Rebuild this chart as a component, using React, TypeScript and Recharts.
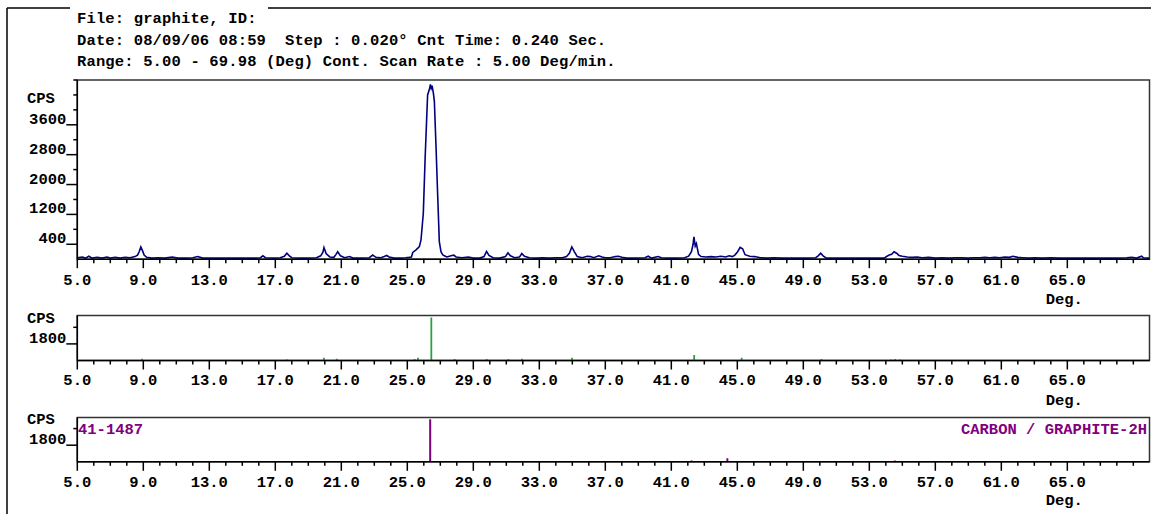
import React from 'react';
import { LineChart, Line, BarChart, Bar, XAxis, YAxis, ReferenceArea } from 'recharts';

const FONT = '"Liberation Mono", "Courier New", monospace';
const FS = 15.5;
const W = 1151;
const X_MIN = 5.0;
const X_MAX = 69.98;

const headerLines = [
  'File: graphite, ID:',
  'Date: 08/09/06 08:59  Step : 0.020° Cnt Time: 0.240 Sec.',
  'Range: 5.00 - 69.98 (Deg) Cont. Scan Rate : 5.00 Deg/min.',
];

const xMajorTicks = [5, 9, 13, 17, 21, 25, 29, 33, 37, 41, 45, 49, 53, 57, 61, 65];
const xAllTicks = Array.from({ length: 65 }, (_, i) => 5 + i);

const topYTicks = [400, 800, 1200, 1600, 2000, 2400, 2800, 3200, 3600, 4000, 4400, 4800];
const topYLabels = [400, 1200, 2000, 2800, 3600];
const smallYTicks = [1800, 3600];
const smallYLabels = [1800];

const cardId = '41-1487';
const cardName = 'CARBON / GRAPHITE-2H';

// measured scan (deg, cps)
const scan: [number, number][] = [
  [5.0, 40], [5.3, 60], [5.5, 30], [5.7, 80], [5.9, 30], [6.2, 50], [6.5, 30], [6.8, 60], [7.0, 30],
  [7.3, 50], [7.6, 30], [7.9, 50], [8.2, 40], [8.5, 70], [8.65, 110], [8.75, 200], [8.85, 330],
  [8.95, 230], [9.05, 110], [9.2, 50], [9.5, 30], [9.9, 40], [10.3, 30], [10.75, 60], [11.1, 30],
  [11.6, 30], [12.0, 40], [12.3, 70], [12.6, 30], [13.2, 30], [13.8, 30], [14.5, 30], [15.2, 30],
  [15.8, 30], [16.1, 40], [16.25, 90], [16.4, 40], [16.9, 30], [17.3, 40], [17.55, 80], [17.7, 160],
  [17.85, 90], [18.0, 40], [18.5, 30], [19.0, 30], [19.5, 40], [19.75, 90], [19.88, 180], [19.95, 310],
  [20.08, 150], [20.3, 60], [20.55, 50], [20.68, 130], [20.78, 200], [20.95, 90], [21.2, 40],
  [21.5, 70], [21.7, 30], [22.2, 30], [22.7, 40], [22.9, 110], [23.1, 50], [23.4, 40], [23.6, 70],
  [23.75, 100], [23.9, 60], [24.2, 30], [24.6, 30], [24.9, 40], [25.1, 50], [25.25, 60], [25.33, 180],
  [25.53, 250], [25.73, 335], [25.83, 515], [25.97, 1230], [26.08, 2710], [26.23, 4400], [26.34, 4550],
  [26.4, 4680], [26.45, 4580], [26.5, 4650], [26.58, 4450], [26.64, 4230], [26.74, 3020], [26.84, 1720],
  [26.94, 470], [27.04, 200], [27.14, 120], [27.24, 90], [27.4, 60], [27.55, 80], [27.7, 100],
  [27.82, 110], [27.95, 60], [28.3, 40], [28.7, 60], [29.0, 30], [29.4, 30], [29.65, 70], [29.8, 210],
  [29.95, 100], [30.2, 40], [30.6, 30], [30.95, 70], [31.1, 170], [31.25, 90], [31.5, 40], [31.8, 60],
  [31.94, 150], [32.1, 80], [32.4, 40], [32.8, 30], [33.2, 40], [33.6, 30], [34.0, 40], [34.4, 40],
  [34.65, 70], [34.82, 160], [34.97, 330], [35.12, 200], [35.3, 70], [35.6, 40], [35.9, 80], [36.1, 70],
  [36.3, 40], [36.6, 90], [36.8, 60], [37.0, 40], [37.3, 40], [37.6, 70], [37.8, 80], [38.0, 50],
  [38.3, 30], [38.8, 30], [39.4, 40], [39.6, 80], [39.8, 30], [40.2, 70], [40.4, 40], [40.8, 30],
  [41.2, 30], [41.8, 40], [42.05, 80], [42.22, 200], [42.32, 400], [42.37, 600], [42.45, 350],
  [42.52, 420], [42.65, 130], [42.8, 70], [43.1, 60], [43.4, 70], [43.7, 60], [44.0, 80], [44.3, 60],
  [44.5, 90], [44.7, 70], [44.85, 110], [45.02, 200], [45.17, 320], [45.32, 280], [45.47, 120],
  [45.75, 80], [46.05, 70], [46.4, 40], [46.8, 30], [47.2, 40], [47.7, 30], [48.2, 30], [48.8, 30],
  [49.3, 30], [49.75, 40], [49.9, 90], [50.05, 160], [50.2, 90], [50.4, 30], [51.0, 30], [51.6, 30],
  [52.2, 30], [52.8, 30], [53.4, 30], [53.9, 30], [54.0, 60], [54.2, 110], [54.35, 130], [54.5, 200],
  [54.65, 160], [54.8, 100], [55.0, 80], [55.3, 60], [55.6, 50], [55.9, 60], [56.2, 40], [56.6, 50],
  [57.0, 30], [57.4, 40], [57.8, 30], [58.2, 40], [58.6, 40], [59.0, 30], [59.3, 40], [59.7, 40],
  [60.0, 50], [60.3, 40], [60.6, 50], [60.9, 40], [61.2, 60], [61.5, 50], [61.7, 80], [62.0, 50],
  [62.3, 40], [62.7, 30], [63.0, 40], [63.5, 30], [64.0, 40], [64.5, 30], [65.0, 30], [65.5, 30],
  [66.0, 30], [66.5, 30], [67.0, 30], [67.5, 30], [68.0, 30], [68.6, 40], [68.9, 50], [69.2, 30],
  [69.5, 80], [69.6, 40], [69.98, 30],
];

// peak search sticks (deg, cps)
const peaks: [number, number][] = [
  [8.9, 200], [17.69, 100], [19.93, 300], [20.71, 200], [25.43, 150], [25.63, 300], [26.44, 4650],
  [27.85, 150], [29.8, 150], [31.11, 150], [31.94, 200], [34.97, 300], [42.37, 600], [45.25, 300],
  [50.08, 150], [54.3, 100], [54.55, 150], [54.85, 100],
];

// reference card 41-1487 sticks (deg, cps)
const card: [number, number][] = [
  [26.38, 4600], [42.22, 150], [44.39, 380], [54.54, 150],
];

const scanData = scan.map(([deg, cps]) => ({ deg, cps }));
const peakData = peaks.map(([deg, cps]) => ({ deg, cps }));
const cardData = card.map(([deg, cps]) => ({ deg, cps }));

const textStyle = { fontFamily: FONT, fontWeight: 700 as const, fontSize: FS };

const makeXTick = (labelDy: number, degDy: number) => (props: any) => {
  const { x, y, payload } = props;
  const v = payload.value as number;
  const major = xMajorTicks.includes(v);
  return (
    <g>
      <line x1={x} x2={x} y1={y} y2={y + (major ? 9 : 4)} stroke="#000" strokeWidth={1.5} />
      {major && (
        <text x={x} y={y + labelDy} textAnchor="middle" fill="#000" style={textStyle}>
          {v.toFixed(1)}
        </text>
      )}
      {v === 65 && (
        <text x={x - 3} y={y + degDy} textAnchor="middle" fill="#000" style={textStyle}>
          Deg.
        </text>
      )}
    </g>
  );
};

const makeYTick = (labels: number[]) => (props: any) => {
  const { x, y, payload } = props;
  const v = payload.value as number;
  const labeled = labels.includes(v);
  return (
    <g>
      <line x1={labeled ? x - 11 : x - 4} x2={x} y1={y} y2={y} stroke="#000" strokeWidth={1.5} />
      {labeled && (
        <text x={x - 11} y={y - 1} textAnchor="end" fill="#000" style={textStyle}>
          {v}
        </text>
      )}
    </g>
  );
};

const PLOT_LEFT = 77.3;
const RIGHT_GAP = 1.5;

export default function App() {
  return (
    <div style={{ position: 'absolute', left: 0, top: 0, width: W, height: 514, background: '#fff', overflow: 'hidden' }}>
      {/* top panel: scan */}
      <div style={{ position: 'absolute', left: 0, top: 0 }}>
        <LineChart width={W} height={312} data={scanData} margin={{ top: 80, right: RIGHT_GAP, left: 0, bottom: 0 }}>
          <XAxis
            dataKey="deg"
            type="number"
            domain={[X_MIN, X_MAX]}
            ticks={xAllTicks}
            interval={0}
            tickSize={0}
            tickMargin={0}
            tickLine={false}
            height={52.8}
            axisLine={{ stroke: '#000', strokeWidth: 1.5 }}
            tick={makeXTick(25.8, 45)}
            allowDataOverflow
          />
          <YAxis
            type="number"
            domain={[0, 4800]}
            ticks={topYTicks}
            interval={0}
            tickSize={0}
            tickMargin={0}
            tickLine={false}
            width={PLOT_LEFT}
            axisLine={{ stroke: '#000', strokeWidth: 1.5 }}
            tick={makeYTick(topYLabels)}
            allowDataOverflow
          />
          <ReferenceArea x1={X_MIN} x2={X_MAX} y1={0} y2={4800} fill="none" stroke="#333" strokeWidth={1.5} />
          <Line type="linear" dataKey="cps" stroke="#000080" strokeWidth={1.6} dot={false} isAnimationActive={false} />
        </LineChart>
      </div>

      {/* middle panel: peak sticks */}
      <div style={{ position: 'absolute', left: 0, top: 300 }}>
        <BarChart width={W} height={110} data={peakData} margin={{ top: 15.5, right: RIGHT_GAP, left: 0, bottom: 0 }}>
          <XAxis
            dataKey="deg"
            type="number"
            domain={[X_MIN, X_MAX]}
            ticks={xAllTicks}
            interval={0}
            tickSize={0}
            tickMargin={0}
            tickLine={false}
            height={49.5}
            axisLine={{ stroke: '#000', strokeWidth: 1.5 }}
            tick={makeXTick(24.5, 44.5)}
            allowDataOverflow
          />
          <YAxis
            type="number"
            domain={[0, 4880]}
            ticks={smallYTicks}
            interval={0}
            tickSize={0}
            tickMargin={0}
            tickLine={false}
            width={PLOT_LEFT}
            axisLine={{ stroke: '#000', strokeWidth: 1.5 }}
            tick={makeYTick(smallYLabels)}
            allowDataOverflow
          />
          <ReferenceArea x1={X_MIN} x2={X_MAX} y1={0} y2={4880} fill="none" stroke="#333" strokeWidth={1.5} />
          <Bar dataKey="cps" fill="#2f9f3a" barSize={1.8} isAnimationActive={false} />
        </BarChart>
      </div>

      {/* bottom panel: reference card */}
      <div style={{ position: 'absolute', left: 0, top: 410 }}>
        <BarChart width={W} height={104} data={cardData} margin={{ top: 7.5, right: RIGHT_GAP, left: 0, bottom: 0 }}>
          <XAxis
            dataKey="deg"
            type="number"
            domain={[X_MIN, X_MAX]}
            ticks={xAllTicks}
            interval={0}
            tickSize={0}
            tickMargin={0}
            tickLine={false}
            height={52.2}
            axisLine={{ stroke: '#000', strokeWidth: 1.5 }}
            tick={makeXTick(25.2, 43.5)}
            allowDataOverflow
          />
          <YAxis
            type="number"
            domain={[0, 4800]}
            ticks={smallYTicks}
            interval={0}
            tickSize={0}
            tickMargin={0}
            tickLine={false}
            width={PLOT_LEFT}
            axisLine={{ stroke: '#000', strokeWidth: 1.5 }}
            tick={makeYTick(smallYLabels)}
            allowDataOverflow
          />
          <ReferenceArea x1={X_MIN} x2={X_MAX} y1={0} y2={4800} fill="none" stroke="#333" strokeWidth={1.5} />
          <Bar dataKey="cps" fill="#800080" barSize={2} isAnimationActive={false} />
        </BarChart>
      </div>

      {/* header, frame and titles */}
      <svg width={W} height={514} style={{ position: 'absolute', left: 0, top: 0, pointerEvents: 'none' }}>
        <line x1={7} x2={7} y1={8} y2={514} stroke="#000" strokeWidth={1.5} />
        <line x1={7} x2={70} y1={8} y2={8} stroke="#000" strokeWidth={1.5} />
        <line x1={268} x2={W} y1={8} y2={8} stroke="#000" strokeWidth={1.5} />
        {headerLines.map((t, i) => (
          <text key={i} x={77} y={23 + i * 21.5} fill="#000" style={{ ...textStyle, letterSpacing: 0.15, whiteSpace: 'pre' }}>
            {t}
          </text>
        ))}
        <text x={27} y={103} fill="#000" style={textStyle}>CPS</text>
        <text x={27} y={323} fill="#000" style={textStyle}>CPS</text>
        <text x={27} y={424} fill="#000" style={textStyle}>CPS</text>
        <text x={78} y={434} fill="#800080" style={textStyle}>{cardId}</text>
        <text x={1147} y={434} textAnchor="end" fill="#800080" style={textStyle}>{cardName}</text>
      </svg>
    </div>
  );
}
